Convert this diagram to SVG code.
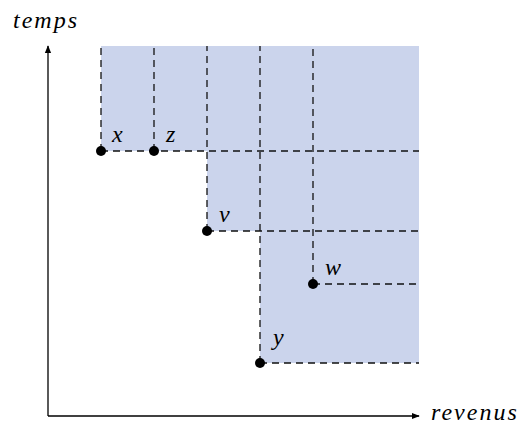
<svg xmlns="http://www.w3.org/2000/svg" width="525" height="427" viewBox="0 0 525 427">
<style>
.lbl{font-family:"Liberation Serif","Times New Roman",serif;font-style:italic;font-size:24px;fill:#000}
.word{letter-spacing:2px}
.dash{stroke:#111;stroke-width:1.3;stroke-dasharray:7 5;fill:none}
.axis{stroke:#000;stroke-width:1.3;fill:none}
.pt{fill:#000}
</style>
<defs>
<marker id="arr" viewBox="0 0 10 10" refX="9" refY="5" markerWidth="8" markerHeight="8" markerUnits="userSpaceOnUse" orient="auto">
<path d="M0,1 L10,5 L0,9 z" fill="#000"/>
</marker>
</defs>
<polygon id="region" points="101,46 419,46 419,363 260,363 260,231 207,231 207,151 101,151" fill="#cbd4ec"/>
<g id="connectors">
<line class="dash" x1="101" y1="151" x2="101" y2="46"/>
<line class="dash" x1="154" y1="151" x2="154" y2="46"/>
<line class="dash" x1="207" y1="231" x2="207" y2="46"/>
<line class="dash" x1="260" y1="363" x2="260" y2="46"/>
<line class="dash" x1="313" y1="284" x2="313" y2="46"/>
<line class="dash" x1="101" y1="151" x2="419" y2="151"/>
<line class="dash" x1="207" y1="231" x2="419" y2="231"/>
<line class="dash" x1="313" y1="284" x2="419" y2="284"/>
<line class="dash" x1="260" y1="363" x2="419" y2="363"/>
<line class="axis" x1="48" y1="416" x2="48" y2="46" marker-end="url(#arr)"/>
<line class="axis" x1="48" y1="416" x2="419" y2="416" marker-end="url(#arr)"/>
</g>
<g id="axis-labels">
<text class="lbl word" x="13" y="28">temps</text>
<text class="lbl word" x="431" y="420">revenus</text>
</g>
<g id="node-x"><circle class="pt" cx="101" cy="151" r="5"/><text class="lbl" x="112" y="142">x</text></g>
<g id="node-z"><circle class="pt" cx="154" cy="151" r="5"/><text class="lbl" x="166" y="142">z</text></g>
<g id="node-v"><circle class="pt" cx="207" cy="231" r="5"/><text class="lbl" x="219" y="222">v</text></g>
<g id="node-w"><circle class="pt" cx="313" cy="284" r="5"/><text class="lbl" x="325" y="275">w</text></g>
<g id="node-y"><circle class="pt" cx="260" cy="363" r="5"/><text class="lbl" x="273" y="345">y</text></g>
</svg>
